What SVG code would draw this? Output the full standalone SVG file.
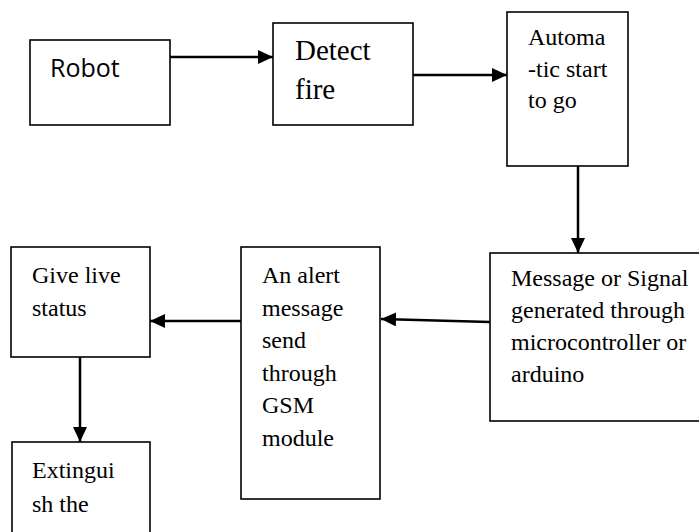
<svg xmlns="http://www.w3.org/2000/svg" width="699" height="532" viewBox="0 0 699 532">
<style>
.box{fill:#fff;stroke:#000;stroke-width:1.6}
.t{font-family:"Liberation Serif","Times New Roman",serif;font-size:24px;fill:#000}
.big{font-size:29px}
.sans{font-family:"Open Sans","Liberation Sans",sans-serif;font-size:25px;fill:#000}
.c{stroke:#000;stroke-width:2.5;fill:none;marker-end:url(#ah)}
</style>
<defs>
<marker id="ah" markerUnits="userSpaceOnUse" markerWidth="16" markerHeight="15" refX="15" refY="7" orient="auto">
<path d="M0,0 L15,7 L0,14 z" fill="#000"/>
</marker>
</defs>
<rect width="699" height="532" fill="#fff"/>
<g id="robot"><rect class="box" x="30" y="40" width="140" height="85"/><text class="sans" x="50" y="77">Robot</text></g>
<g id="detect"><rect class="box" x="273" y="23" width="140" height="102"/><text class="t big" x="295" y="60">Detect</text><text class="t big" x="295" y="99">fire</text></g>
<g id="automatic"><rect class="box" x="507" y="12" width="121" height="154"/><text class="t" x="528" y="45">Automa</text><text class="t" x="528" y="76.5">-tic start</text><text class="t" x="528" y="108">to go</text></g>
<g id="message"><rect class="box" x="490" y="253" width="215" height="168"/><text class="t" x="511" y="286">Message or Signal</text><text class="t" x="511" y="318">generated through</text><text class="t" x="511" y="350">microcontroller or</text><text class="t" x="511" y="382">arduino</text></g>
<g id="alert"><rect class="box" x="241" y="247" width="139" height="252"/><text class="t" x="262" y="283">An alert</text><text class="t" x="262" y="315.5">message</text><text class="t" x="262" y="348">send</text><text class="t" x="262" y="380.5">through</text><text class="t" x="262" y="413">GSM</text><text class="t" x="262" y="445.5">module</text></g>
<g id="status"><rect class="box" x="11" y="247" width="139" height="110"/><text class="t" x="32" y="283">Give live</text><text class="t" x="32" y="316">status</text></g>
<g id="extinguish"><rect class="box" x="12" y="442" width="138" height="100"/><text class="t" x="32" y="478">Extingui</text><text class="t" x="32" y="512">sh the</text></g>
<g id="connectors">
<line class="c" x1="170" y1="57" x2="273" y2="57"/>
<line class="c" x1="413" y1="75" x2="507" y2="75"/>
<line class="c" x1="578" y1="166" x2="578" y2="253"/>
<line class="c" x1="490" y1="322" x2="381" y2="319"/>
<line class="c" x1="241" y1="321" x2="150" y2="321"/>
<line class="c" x1="80" y1="357" x2="80" y2="442"/>
</g>
</svg>
